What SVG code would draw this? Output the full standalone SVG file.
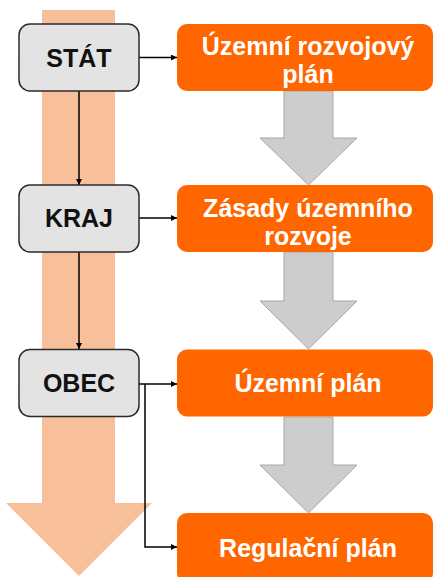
<svg xmlns="http://www.w3.org/2000/svg" width="435" height="577" viewBox="0 0 435 577">
  <style>
    .level rect { fill: #E3E3E3; stroke: #2B2B2B; stroke-width: 1.5; }
    .level text { font-family: "Liberation Sans", Arial, sans-serif; font-weight: bold; font-size: 25px; fill: #111; text-anchor: middle; }
    .doc rect { fill: #FF6600; }
    .doc text { font-family: "Liberation Sans", Arial, sans-serif; font-weight: bold; font-size: 25px; fill: #FFFFFF; text-anchor: middle; }
    .flow { fill: #CDCDCD; stroke: #A8A8A8; stroke-width: 1; }
    .conn { fill: none; stroke: #000; stroke-width: 1.5; }
  </style>
  <defs>
    <marker id="ah" viewBox="0 0 10 10" refX="10" refY="5" markerWidth="6" markerHeight="6" markerUnits="userSpaceOnUse" orient="auto">
      <path d="M0,0 L10,5 L0,10 z" fill="#000"/>
    </marker>
  </defs>

  <!-- background hierarchy arrow -->
  <polygon id="hierarchy" fill="#F7BF9A" points="42,10 115,10 115,503 152,503 79,576 6,503 42,503"/>

  <!-- flow arrows between planning documents -->
  <g id="flow-arrows">
    <polygon class="flow" points="284,91 333,91 333,138 357,138 308.5,185 260,138 284,138"/>
    <polygon class="flow" points="284,252 333,252 333,301 357,301 308.5,349 260,301 284,301"/>
    <polygon class="flow" points="284,417 333,417 333,465 357,465 308.5,513 260,465 284,465"/>
  </g>

  <!-- connectors -->
  <g id="connectors">
    <line class="conn" x1="139" y1="57.5" x2="177" y2="57.5" marker-end="url(#ah)"/>
    <line class="conn" x1="139" y1="218" x2="177" y2="218" marker-end="url(#ah)"/>
    <line class="conn" x1="139" y1="384" x2="177" y2="384" marker-end="url(#ah)"/>
    <line class="conn" x1="79" y1="91" x2="79" y2="185" marker-end="url(#ah)"/>
    <line class="conn" x1="79" y1="252" x2="79" y2="349" marker-end="url(#ah)"/>
    <polyline class="conn" points="145,384 145,547 177,547" marker-end="url(#ah)"/>
  </g>

  <!-- administrative levels -->
  <g id="stat" class="level">
    <rect x="19" y="24" width="120" height="67" rx="11"/>
    <text x="79" y="66.5">STÁT</text>
  </g>
  <g id="kraj" class="level">
    <rect x="19" y="185" width="120" height="67" rx="11"/>
    <text x="79" y="227">KRAJ</text>
  </g>
  <g id="obec" class="level">
    <rect x="19" y="349.5" width="120" height="67" rx="11"/>
    <text x="79" y="392">OBEC</text>
  </g>

  <!-- planning documents -->
  <g id="uzemni-rozvojovy-plan" class="doc">
    <rect x="177" y="24" width="256" height="67" rx="10"/>
    <text x="308" y="55">Územní rozvojový</text>
    <text x="308" y="83">plán</text>
  </g>
  <g id="zasady-uzemniho-rozvoje" class="doc">
    <rect x="177" y="185" width="256" height="67" rx="10"/>
    <text x="308" y="216.5">Zásady územního</text>
    <text x="308" y="244.5">rozvoje</text>
  </g>
  <g id="uzemni-plan" class="doc">
    <rect x="177" y="349.5" width="256" height="67" rx="10"/>
    <text x="308" y="391.5">Územní plán</text>
  </g>
  <g id="regulacni-plan" class="doc">
    <rect x="177" y="513" width="256" height="70" rx="10"/>
    <text x="308" y="556.5">Regulační plán</text>
  </g>
</svg>
